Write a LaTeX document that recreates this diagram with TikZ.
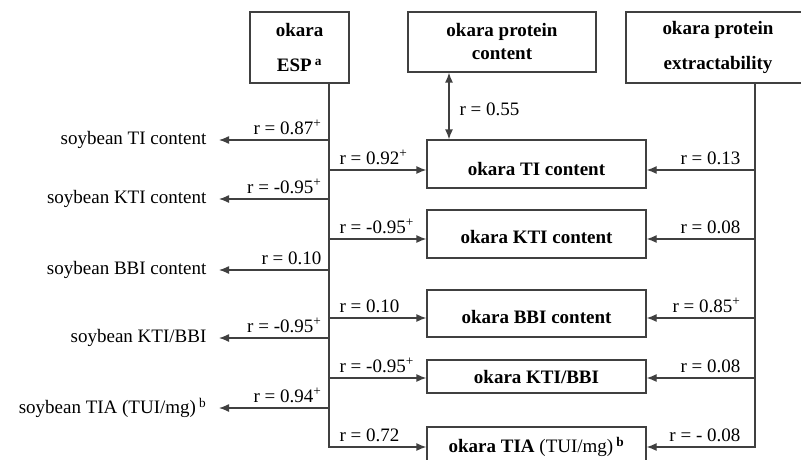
\documentclass[tikz,border=0pt]{standalone}
\usepackage{fontspec}
\setmainfont{Liberation Serif}
\usetikzlibrary{arrows.meta,calc}
\newcommand\plussig{\textsuperscript{+}}
\begin{document}
\begin{tikzpicture}[x=1pt,y=-1pt,
  line width=1.3pt,
  color=black!75,
  box/.style={draw, rectangle, inner sep=0pt, text=black,
    font=\fontsize{19}{23}\selectfont\bfseries, align=center},
  okbox/.style={box, minimum width=219pt, text depth=0pt},
  soy/.style={anchor=east, inner sep=0pt, text=black, font=\fontsize{19}{23}\selectfont},
  lab/.style={inner sep=0pt, text=black, font=\fontsize{19}{23}\selectfont},
  arr/.style={-{Latex[length=10pt,width=8pt]}},
  darr/.style={{Latex[length=10pt,width=8pt]}-{Latex[length=10pt,width=8pt]}},
]
\useasboundingbox (0,0) rectangle (801,460);
\clip (0,0) rectangle (801,460);

% top boxes
\node[box, minimum width=99pt, minimum height=71pt] (esp) at (299.5,47.5) {okara\\[12pt]ESP\,\textsuperscript{a}};
\node[box, minimum width=188pt, minimum height=60pt] (prot) at (502,42) {okara protein\\content};
\node[box, minimum width=184pt, minimum height=71pt] (extr) at (718,47.5) {okara protein\\[12pt]extractability};

% okara boxes
\node[okbox, minimum height=48pt, text height=22pt] (ti) at (536.5,164) {okara TI content};
\node[okbox, minimum height=48pt, text height=19pt] (kti) at (536.5,234) {okara KTI content};
\node[okbox, minimum height=47pt, text height=19pt] (bbi) at (536.5,313.5) {okara BBI content};
\node[okbox, minimum height=33pt, text height=13pt] (kb) at (536.5,376.5) {okara KTI/BBI};
\node[okbox, minimum height=48pt, text height=3pt] (tia) at (536.5,451) {okara TIA \textnormal{(TUI/mg)}\,\textsuperscript{b}};

% soybean nodes
\node[soy] (so1) at (207,140) {soybean TI content};
\node[soy] (so2) at (207,199) {soybean KTI content};
\node[soy] (so3) at (207,270) {soybean BBI content};
\node[soy] (so4) at (207,338) {soybean KTI/BBI};
\node[soy] (so5) at (207,408) {soybean TIA (TUI/mg)\,\textsuperscript{b}};

% junction coordinates
\coordinate (L0) at (329,83);
\coordinate (a1) at (329,170);
\coordinate (a2) at (329,239);
\coordinate (a3) at (329,318);
\coordinate (a4) at (329,378);
\coordinate (a5) at (329,447);
\coordinate (R0) at (755,83);
\coordinate (b1) at (755,170);
\coordinate (b2) at (755,239);
\coordinate (b3) at (755,318);
\coordinate (b4) at (755,378);
\coordinate (b5) at (755,447);
\coordinate (d) at (449,100);

% left trunk
\draw[arr] (L0) -- (a5) -- (a5 -| tia.west);
\foreach \s in {so1,so2,so3,so4,so5}
  \draw[arr, shorten >=12pt] (\s.east -| L0) -- (\s.east);
\draw[arr] (a1) -- (a1 -| ti.west);
\draw[arr] (a2) -- (a2 -| kti.west);
\draw[arr] (a3) -- (a3 -| bbi.west);
\draw[arr] (a4) -- (a4 -| kb.west);

% right trunk
\draw[arr] (R0) -- (b5) -- (b5 -| tia.east);
\draw[arr] (b1) -- (b1 -| ti.east);
\draw[arr] (b2) -- (b2 -| kti.east);
\draw[arr] (b3) -- (b3 -| bbi.east);
\draw[arr] (b4) -- (b4 -| kb.east);

% protein content double arrow
\draw[darr] (d |- prot.south) -- (d |- ti.north);
\node[lab, anchor=base west] (r55) at (459,115) {r = 0.55};

% left labels
\node[lab, anchor=base east] (l1) at (322,134) {r = 0.87\plussig};
\node[lab, anchor=base east] (l2) at (322,193) {r = -0.95\plussig};
\node[lab, anchor=base east] (l3) at (322,264) {r = 0.10};
\node[lab, anchor=base east] (l4) at (322,332) {r = -0.95\plussig};
\node[lab, anchor=base east] (l5) at (322,402) {r = 0.94\plussig};

% right-going labels
\node[lab, anchor=base west] (m1) at (339,164) {r = 0.92\plussig};
\node[lab, anchor=base west] (m2) at (339,233) {r = -0.95\plussig};
\node[lab, anchor=base west] (m3) at (339,312) {r = 0.10};
\node[lab, anchor=base west] (m4) at (339,372) {r = -0.95\plussig};
\node[lab, anchor=base west] (m5) at (339,441) {r = 0.72};

% right side labels
\node[lab, anchor=base east] (n1) at (741,164) {r = 0.13};
\node[lab, anchor=base east] (n2) at (741,233) {r = 0.08};
\node[lab, anchor=base east] (n3) at (741,312) {r = 0.85\plussig};
\node[lab, anchor=base east] (n4) at (741,372) {r = 0.08};
\node[lab, anchor=base east] (n5) at (741,441) {r = - 0.08};
\end{tikzpicture}
\end{document}
